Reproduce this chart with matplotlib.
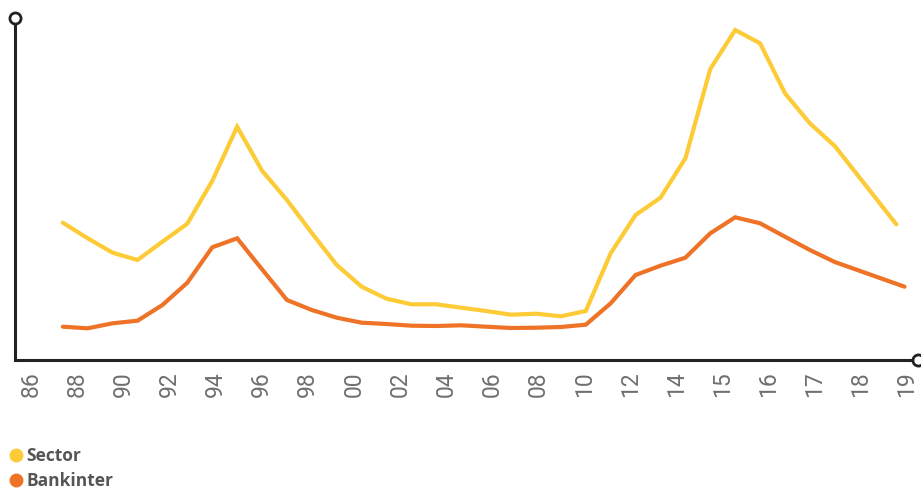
import numpy as np
import matplotlib.pyplot as plt
from matplotlib.lines import Line2D

# x tick labels (evenly spaced along the axis, as in the original)
TICK_LABELS = ['86', '88', '90', '92', '94', '96', '98', '00', '02', '04',
               '06', '08', '10', '12', '14', '15', '16', '17', '18', '19']

# series (arbitrary units, 0 = baseline)
SECTOR_X = list(range(32)) + [33.47]
SECTOR = [137.3, 121.7, 107.3, 100.0, 118.3, 136.3, 179.0, 233.3, 189.3, 160.0,
          127.0, 95.0, 73.3, 61.3, 55.7, 55.7, 52.3, 49.0, 45.3, 46.3,
          43.7, 49.0, 106.7, 145.0, 162.3, 201.7, 291.0, 330.0, 316.7, 266.7,
          236.7, 214.0, 135.7]

BANK_X = list(range(32)) + [33.8]
BANKINTER = [33.3, 31.7, 36.7, 39.3, 55.0, 77.3, 112.7, 121.7, 90.7, 60.0,
             50.0, 42.3, 37.3, 36.0, 34.3, 34.0, 34.7, 33.3, 32.0, 32.3,
             33.0, 35.3, 56.7, 85.0, 94.3, 102.3, 126.7, 142.7, 136.7, 123.3,
             110.0, 98.0, 73.3]

YELLOW = '#fdcb35'
ORANGE = '#ee7326'
DARK = '#222222'

fig = plt.figure(figsize=(9.21, 4.91), dpi=100)
ax = fig.add_axes([0.0163, 0.2668, 0.9804, 0.6965])

ax.plot(SECTOR_X, SECTOR, color=YELLOW, lw=3, solid_capstyle='round',
        solid_joinstyle='miter')
ax.plot(BANK_X, BANKINTER, color=ORANGE, lw=3, solid_capstyle='round',
        solid_joinstyle='miter')

ax.set_xlim(-1.92, 34.34)
ax.set_ylim(0, 342)

for side in ('top', 'right'):
    ax.spines[side].set_visible(False)
for side in ('left', 'bottom'):
    ax.spines[side].set_color(DARK)
    ax.spines[side].set_linewidth(2.2)

ax.set_yticks([])
ax.set_xticks(np.linspace(-1.27, 33.9, len(TICK_LABELS)))
ax.set_xticklabels(TICK_LABELS, rotation=90, fontsize=16.5, color='#6f6f6f',
                   fontweight='normal', family=['Roboto', 'DejaVu Sans'])
ax.tick_params(axis='x', length=0, pad=8)

# hollow circles at the axis ends
ax.plot([0, 1], [1, 0], linestyle='', marker='o', markersize=8,
        markerfacecolor='white', markeredgecolor=DARK, markeredgewidth=2,
        transform=ax.transAxes, clip_on=False, zorder=5)

handles = [Line2D([], [], linestyle='', marker='o', markersize=9, color=YELLOW),
           Line2D([], [], linestyle='', marker='o', markersize=9, color=ORANGE)]
leg = fig.legend(handles, ['Sector', 'Bankinter'], loc='upper left',
                 bbox_to_anchor=(0.0, 0.108), frameon=False, borderpad=0,
                 handlelength=0.8, handletextpad=0.2, labelspacing=0.4,
                 prop={'family': 'Open Sans', 'weight': 'bold', 'size': 12.5})
for t in leg.get_texts():
    t.set_color('#555555')

fig.savefig('out.png', dpi=100)
